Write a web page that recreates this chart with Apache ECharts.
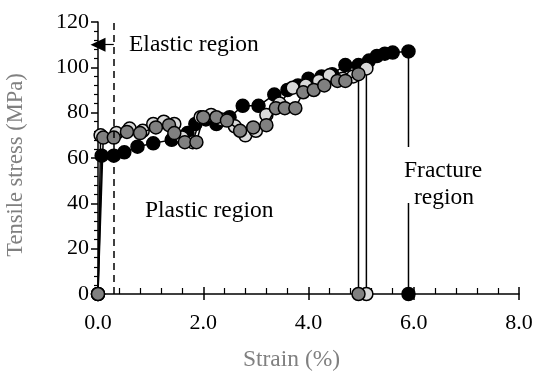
<!DOCTYPE html>
<html>
<head>
<meta charset="utf-8">
<script src="https://cdn.jsdelivr.net/npm/echarts@6.0.0/dist/echarts.min.js"></script>
<style>
  html, body { margin: 0; padding: 0; background: #fff; }
  #chart { width: 534px; height: 374px; }
</style>
</head>
<body>
<div id="chart"></div>
<script>
// strain (%) , stress (MPa) for each specimen
const blackData = [
    [0, 0], [0.07, 61], [0.3, 61], [0.5, 62.5], [0.75, 65], [1.05, 66.5], [1.4, 68],
    [1.7, 71], [1.85, 75], [2.05, 77], [2.25, 75], [2.5, 78], [2.75, 83], [3.05, 83],
    [3.35, 88], [3.6, 90], [3.8, 92], [4.0, 95], [4.25, 96], [4.45, 97], [4.7, 101],
    [4.95, 101], [5.15, 103], [5.3, 105], [5.45, 106], [5.6, 106.5], [5.9, 107], [5.9, 0]
];
const lightData = [
    [0, 0], [0.05, 70], [0.35, 71], [0.6, 73], [0.85, 72], [1.05, 75], [1.25, 76],
    [1.45, 75], [1.6, 69], [1.8, 67], [1.95, 78], [2.15, 79], [2.35, 77], [2.6, 74],
    [2.8, 70], [3.0, 72], [3.2, 79], [3.45, 84], [3.7, 91], [3.95, 92], [4.2, 94],
    [4.4, 96.5], [4.65, 95], [4.85, 96], [5.1, 99.5], [5.1, 0]
];
const grayData = [
    [0, 0], [0.1, 69], [0.3, 69], [0.55, 71.5], [0.8, 71], [1.1, 73.5], [1.35, 74.5],
    [1.45, 71], [1.65, 67], [1.87, 67], [2.0, 78], [2.25, 78], [2.45, 76.5], [2.7, 72],
    [2.95, 73.5], [3.2, 74.5], [3.38, 82], [3.55, 82], [3.75, 82], [3.9, 89], [4.1, 90],
    [4.3, 92], [4.55, 94], [4.7, 94], [4.95, 97], [4.95, 0]
];
const elasticLimit = 0.3;
const arrowY = 110;

const font = 'Liberation Serif';

const chart = echarts.init(document.getElementById('chart'));

function curve(data, color, z) {
    return {
        type: 'line',
        data: data,
        z: z,
        symbol: 'circle',
        symbolSize: 13,
        showAllSymbol: true,
        itemStyle: { color: color, borderColor: '#000', borderWidth: 1.5 },
        lineStyle: { color: '#000', width: 1.5 },
        animation: false
    };
}

const black = curve(blackData, '#000', 2);
black.markLine = {
    silent: true,
    symbol: 'none',
    label: { show: false },
    lineStyle: { color: '#000', type: [7, 5], width: 1.5 },
    data: [[{ coord: [elasticLimit, 0] }, { coord: [elasticLimit, 120] }]]
};
const light = curve(lightData, '#d9d9d9', 3);
const gray = curve(grayData, '#808080', 4);
gray.markLine = {
    silent: true,
    symbol: ['none', 'triangle'],
    symbolSize: [14, 15],
    label: { show: false },
    lineStyle: { color: '#000', type: 'solid', width: 1.2 },
    data: [[{ coord: [elasticLimit, arrowY] }, { coord: [0, arrowY] }]]
};

const option = {
    backgroundColor: '#fff',
    animation: false,
    grid: { left: 98, right: 15, top: 22, bottom: 80, containLabel: false, outerBoundsMode: 'none' },
    xAxis: [{
        type: 'value', min: 0, max: 8, interval: 2,
        name: 'Strain (%)', nameLocation: 'middle', nameGap: 54,
        nameTextStyle: { fontFamily: font, fontSize: 23.5, color: '#808080', padding: [0, 34, 0, 0] },
        axisLine: { lineStyle: { color: '#000', width: 1.5 } },
        axisTick: { inside: true, length: 7, lineStyle: { color: '#000', width: 1.5 } },
        minorTick: { show: true, splitNumber: 5, length: 6, lineStyle: { color: '#000', width: 1.2 } },
        axisLabel: { fontFamily: font, fontSize: 22, color: '#000', margin: 18, formatter: v => v.toFixed(1) },
        splitLine: { show: false }
    }, {
        type: 'value', min: 0, max: 8, interval: 2, position: 'bottom',
        axisLine: { show: false },
        axisTick: { show: true, inside: false, length: 6, lineStyle: { color: '#000', width: 1.5 } },
        axisLabel: { show: false },
        splitLine: { show: false }
    }],
    yAxis: [{
        type: 'value', min: 0, max: 120, interval: 20,
        name: 'Tensile stress (MPa)', nameLocation: 'middle', nameGap: 70,
        nameTextStyle: { fontFamily: font, fontSize: 22.5, color: '#808080', padding: [0, 14, 0, 0] },
        axisLine: { lineStyle: { color: '#000', width: 1.5 } },
        axisTick: { inside: false, length: 7, lineStyle: { color: '#000', width: 1.5 } },
        minorTick: { show: true, splitNumber: 5, length: 4, lineStyle: { color: '#000', width: 1.2 } },
        axisLabel: { fontFamily: font, fontSize: 22, color: '#000', margin: 9 },
        splitLine: { show: false }
    }],
    series: [black, light, gray],
    graphic: [
        // gap in the fracture marker line behind the label
        { type: 'rect', shape: { x: 403, y: 147, width: 10, height: 56 }, style: { fill: '#fff' }, z: 100 },
        { type: 'text', left: 129, top: 33, z: 101,
          style: { text: 'Elastic region', font: '23.5px "Liberation Serif"', fill: '#000' } },
        { type: 'text', left: 145, top: 199, z: 101,
          style: { text: 'Plastic region', font: '23.5px "Liberation Serif"', fill: '#000' } },
        { type: 'text', left: 404, top: 159, z: 101,
          style: { text: 'Fracture', font: '23.5px "Liberation Serif"', fill: '#000' } },
        { type: 'text', left: 414, top: 186, z: 101,
          style: { text: 'region', font: '23.5px "Liberation Serif"', fill: '#000' } }
    ]
};

chart.setOption(option);
</script>
</body>
</html>
